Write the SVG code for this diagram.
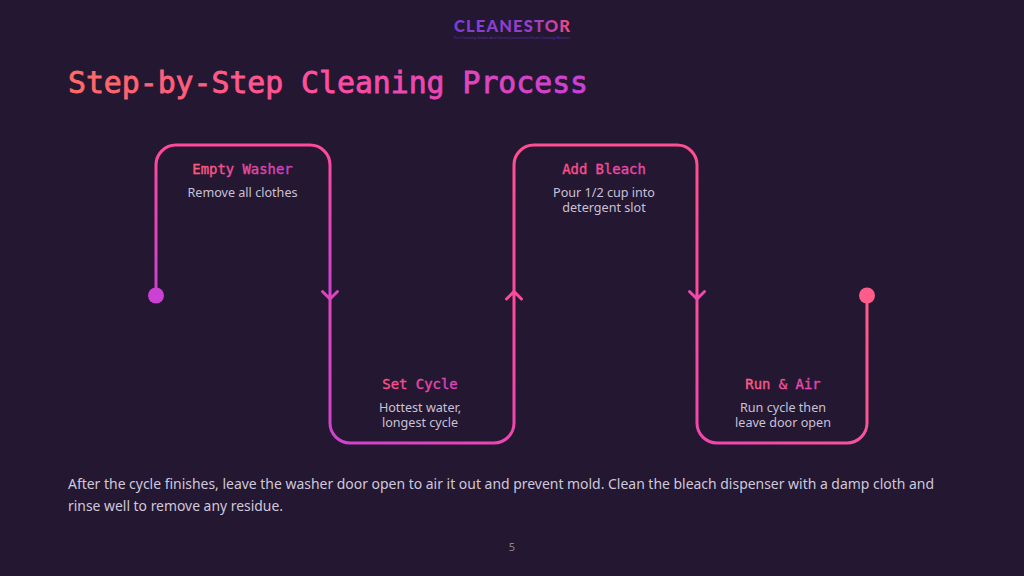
<svg xmlns="http://www.w3.org/2000/svg" width="1024" height="576" viewBox="0 0 1024 576">
<defs>
<linearGradient id="title" gradientUnits="userSpaceOnUse" x1="68" y1="0" x2="588" y2="0"><stop offset="0" stop-color="#ff6b63"/><stop offset="0.5" stop-color="#ff4da0"/><stop offset="1" stop-color="#c840d8"/></linearGradient>
<linearGradient id="logo" gradientUnits="userSpaceOnUse" x1="454" y1="0" x2="570" y2="0"><stop offset="0" stop-color="#7a3fd8"/><stop offset="0.7" stop-color="#9a3fc8"/><stop offset="1" stop-color="#f5487f"/></linearGradient>
<linearGradient id="g1" gradientUnits="userSpaceOnUse" x1="0" y1="145" x2="0" y2="295"><stop offset="0" stop-color="#ff4a9c"/><stop offset="1" stop-color="#cc40d4"/></linearGradient>
<linearGradient id="g2" gradientUnits="userSpaceOnUse" x1="330" y1="443" x2="514" y2="295"><stop offset="0" stop-color="#cf42d0"/><stop offset="1" stop-color="#ff4a9c"/></linearGradient>
<linearGradient id="g3" gradientUnits="userSpaceOnUse" x1="0" y1="145" x2="0" y2="295"><stop offset="0" stop-color="#ff4f90"/><stop offset="1" stop-color="#fa4aa0"/></linearGradient>
<linearGradient id="g4" gradientUnits="userSpaceOnUse" x1="697" y1="443" x2="867" y2="295"><stop offset="0" stop-color="#f046ae"/><stop offset="1" stop-color="#ff5c8a"/></linearGradient>
<linearGradient id="h1" gradientUnits="userSpaceOnUse" x1="193" y1="0" x2="292" y2="0"><stop offset="0" stop-color="#ff5c78"/><stop offset="1" stop-color="#c840c8"/></linearGradient>
<linearGradient id="h2" gradientUnits="userSpaceOnUse" x1="383" y1="0" x2="457" y2="0"><stop offset="0" stop-color="#ff4f85"/><stop offset="1" stop-color="#d544c0"/></linearGradient>
<linearGradient id="h3" gradientUnits="userSpaceOnUse" x1="563" y1="0" x2="645" y2="0"><stop offset="0" stop-color="#ff4f85"/><stop offset="1" stop-color="#e446b4"/></linearGradient>
<linearGradient id="h4" gradientUnits="userSpaceOnUse" x1="746" y1="0" x2="820" y2="0"><stop offset="0" stop-color="#ff5c80"/><stop offset="1" stop-color="#e044bc"/></linearGradient>
</defs>
<style>
.p{fill:none;stroke-width:3;stroke-linejoin:round;stroke-linecap:round}
.h{font-family:"DejaVu Sans Mono","Liberation Mono",monospace;font-size:13.9px;text-anchor:middle;stroke-width:.35px}
.b{font-family:"Noto Sans","Open Sans",sans-serif;font-size:12.6px;fill:#c9c1d6;text-anchor:middle}
.f{font-family:"Noto Sans","Open Sans",sans-serif;font-size:14px;fill:#cfc8dc}
</style>
<rect width="1024" height="576" fill="#241731"/>
<g id="logo-block">
<text x="454" y="32" font-family="Lato,'Noto Sans',sans-serif" font-size="16.500" font-weight="900" fill="url(#logo)" textLength="116" lengthAdjust="spacing">CLEANESTOR</text>
<text x="512" y="38.500" font-family="'Noto Sans',sans-serif" font-size="3.600" fill="#5a2fa8" text-anchor="middle" textLength="116" lengthAdjust="spacingAndGlyphs">Pro Cleaning Guides And Service Journalism From Cleaning Masters</text>
</g>
<text id="title-text" x="68" y="93" font-family="'DejaVu Sans Mono','Liberation Mono',monospace" font-size="29.800" fill="url(#title)" stroke="url(#title)" stroke-width=".8" textLength="520" lengthAdjust="spacingAndGlyphs">Step-by-Step Cleaning Process</text>
<g id="connectors">
<path class="p" stroke="url(#g1)" d="M156 295V165a20 20 0 0 1 20-20H310a20 20 0 0 1 20 20V295"/>
<path class="p" stroke="url(#g2)" d="M330 295V423a20 20 0 0 0 20 20H494a20 20 0 0 0 20-20V295"/>
<path class="p" stroke="url(#g3)" d="M514 295V165a20 20 0 0 1 20-20H677a20 20 0 0 1 20 20V295"/>
<path class="p" stroke="url(#g4)" d="M697 295V423a20 20 0 0 0 20 20H847a20 20 0 0 0 20-20V295"/>
<path class="p" stroke="#dd44c0" stroke-width="2" d="M322.500 291.500L330 299L337.500 291.500"/>
<path class="p" stroke="#ff4a9c" stroke-width="2" d="M506.500 299L514 291.500L521.500 299"/>
<path class="p" stroke="#f048ae" stroke-width="2" d="M689.500 291.500L697 299L704.500 291.500"/>
</g>
<g id="start-dot"><circle cx="156" cy="295.500" r="8" fill="#cc40d4"/></g>
<g id="end-dot"><circle cx="867" cy="295.500" r="8" fill="#ff5c8a"/></g>
<g id="step-1"><text class="h" x="242.500" y="174" fill="url(#h1)" stroke="url(#h1)">Empty Washer</text><text class="b" x="242.500" y="196.500">Remove all clothes</text></g>
<g id="step-2"><text class="h" x="420" y="389" fill="url(#h2)" stroke="url(#h2)">Set Cycle</text><text class="b" x="420" y="412">Hottest water,</text><text class="b" x="420" y="427">longest cycle</text></g>
<g id="step-3"><text class="h" x="604" y="174" fill="url(#h3)" stroke="url(#h3)">Add Bleach</text><text class="b" x="604" y="197">Pour 1/2 cup into</text><text class="b" x="604" y="212">detergent slot</text></g>
<g id="step-4"><text class="h" x="783" y="389" fill="url(#h4)" stroke="url(#h4)">Run &amp; Air</text><text class="b" x="783" y="412">Run cycle then</text><text class="b" x="783" y="427">leave door open</text></g>
<g id="note"><text class="f" x="68" y="489" textLength="866" lengthAdjust="spacingAndGlyphs">After the cycle finishes, leave the washer door open to air it out and prevent mold. Clean the bleach dispenser with a damp cloth and</text><text class="f" x="68" y="511" textLength="215" lengthAdjust="spacingAndGlyphs">rinse well to remove any residue.</text></g>
<text id="page" x="512" y="551" font-family="'Noto Sans',sans-serif" font-size="11" fill="#8d8399" text-anchor="middle">5</text>
</svg>
